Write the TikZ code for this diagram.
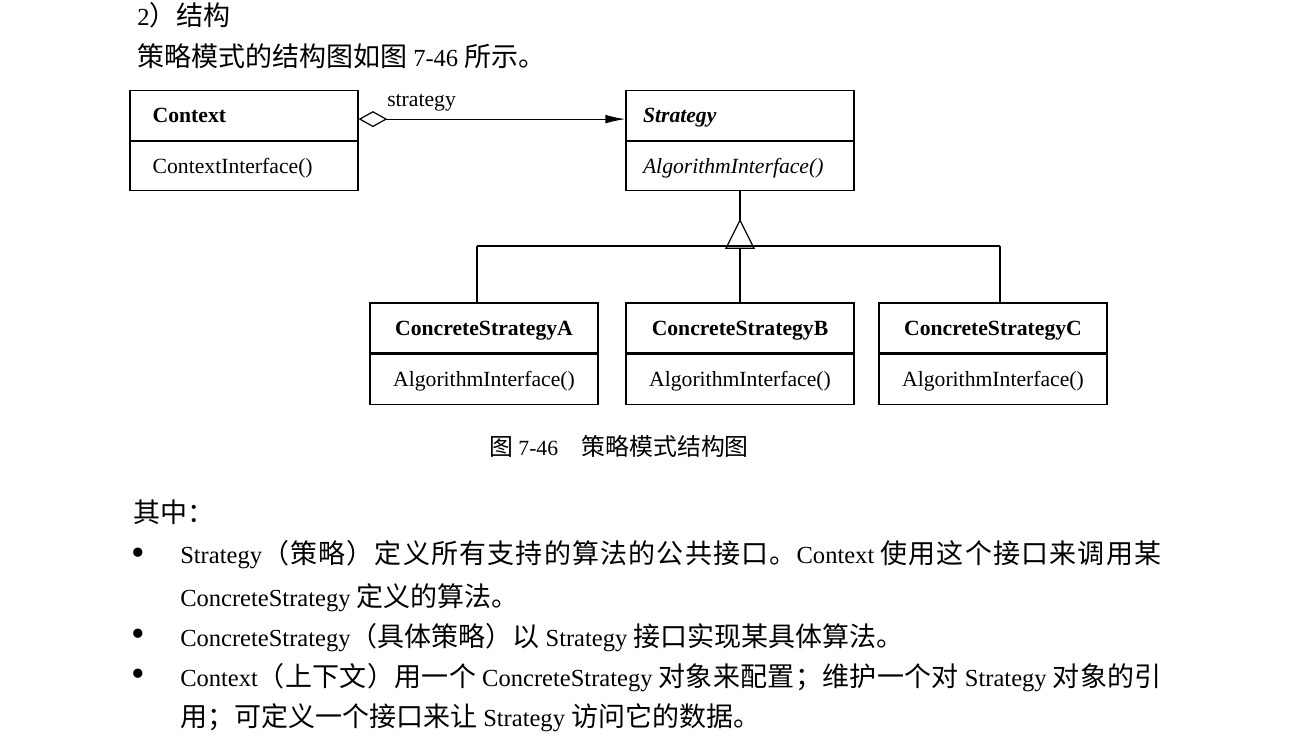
\documentclass[tikz,border=0pt]{standalone}
\usepackage{fontspec}
\setmainfont{Liberation Serif}
\newfontfamily\cjk[Scale=1.1]{Noto Sans CJK SC}
\newfontfamily\cjks[Scale=1.1,LetterSpace=4.5]{Noto Sans CJK SC}
\newfontfamily\cjkt[Scale=1.1,LetterSpace=1.2]{Noto Sans CJK SC}
\newcommand\zh[1]{{\cjk #1}}
\newcommand\zhs[1]{{\cjks #1}}
\newcommand\zht[1]{{\cjkt #1}}
\newcommand\dfont{\fontsize{16.25pt}{18pt}\selectfont}
\newcommand\bodyfont{\fontsize{18.4pt}{22pt}\selectfont}
\usetikzlibrary{arrows.meta}
\begin{document}
\begin{tikzpicture}[x=0.75pt,y=-0.75pt,
  every node/.style={inner sep=0pt},
  cell/.style={draw, line width=0.9pt, minimum width=171pt, minimum height=37pt,
    text height=10.7pt, text depth=0pt, font=\dfont},
  lcell/.style={cell, align=left, inner xsep=#1, text width=171pt-2*#1},
  line/.style={line width=0.9pt},
  body/.style={anchor=base west, font=\bodyfont},
  bul/.style={font=\fontsize{29pt}{30pt}\selectfont}
]
\useasboundingbox (0,0) rectangle (1297,751);

% heading text
\node[body] (h1) at (137,25) {2\zh{）结构}};
\node[body] (h2) at (137,66) {\zh{策略模式的结构图如图} 7-46 \zh{所示。}};

% Context class
\node[lcell=17pt, font=\dfont\bfseries] (ctxh) at (244,115.5) {Context};
\node[lcell=17pt, anchor=north] (ctxb) at (ctxh.south) {ContextInterface()};

% Strategy class
\node[lcell=12.75pt, font=\dfont\bfseries\itshape] (strh) at (740,115.5) {Strategy};
\node[lcell=12.75pt, font=\dfont\itshape, anchor=north] (strb) at (strh.south) {AlgorithmInterface()};

% aggregation
\draw[line, {Diamond[open,length=21.5pt,width=12pt,line width=0.9pt]}-{Latex[length=15pt,width=6.5pt]}]
  ([yshift=-2.7pt]ctxh.east) -- ([yshift=-2.7pt]strh.west);
\node[anchor=base west, font=\dfont] (lbl) at (387,106) {strategy};

% concrete classes
\node[cell, font=\dfont\bfseries, minimum height=37.5pt] (ah) at (484,328) {ConcreteStrategyA};
\node[cell, anchor=north, minimum height=38pt] (ab) at (ah.south) {AlgorithmInterface()};
\node[cell, font=\dfont\bfseries, minimum height=37.5pt] (bh) at (740,328) {ConcreteStrategyB};
\node[cell, anchor=north, minimum height=38pt] (bb) at (bh.south) {AlgorithmInterface()};
\node[cell, font=\dfont\bfseries, minimum height=37.5pt] (ch) at (993,328) {ConcreteStrategyC};
\node[cell, anchor=north, minimum height=38pt] (cb) at (ch.south) {AlgorithmInterface()};

% generalization
\coordinate (apex) at ([yshift=-21.75pt]strb.south);
\coordinate (junc) at ([yshift=-21pt]apex);
\coordinate (bara) at (477,246);
\coordinate (barc) at (1000,246);
\draw[line] (strb.south) -- (apex);
\draw[line, line join=miter] (apex) -- ++(-14,28) -- ++(28,0) -- cycle;
\draw[line] (bara) -- (barc);
\draw[line] (bara) -- (bara |- ah.north);
\draw[line] (junc) -- (bh.north);
\draw[line] (barc) -- (barc |- ch.north);

% caption
\node[anchor=base, font=\dfont] (cap) at (619,455) {\zh{图} 7-46\zh{　策略模式结构图}};

% explanation
\node[body] (q) at (133,522) {\zh{其中：}};
\node[bul] (b1) at (138,557) {•};
\node[body] (l1) at (180,563) {Strategy\zhs{（策略）定义所有支持的算法的公共接口。}Context \zhs{使用这个接口来调用某}};
\node[body] (l2) at (180,606) {ConcreteStrategy \zh{定义的算法。}};
\node[bul] (b2) at (138,638) {•};
\node[body] (l3) at (180,646) {ConcreteStrategy\zh{（具体策略）以} Strategy \zh{接口实现某具体算法。}};
\node[bul] (b3) at (138,678) {•};
\node[body] (l4) at (180,686) {Context\zht{（上下文）用一个} ConcreteStrategy \zht{对象来配置；维护一个对} Strategy \zht{对象的引}};
\node[body] (l5) at (180,726) {\zh{用；可定义一个接口来让} Strategy \zh{访问它的数据。}};
\end{tikzpicture}
\end{document}
